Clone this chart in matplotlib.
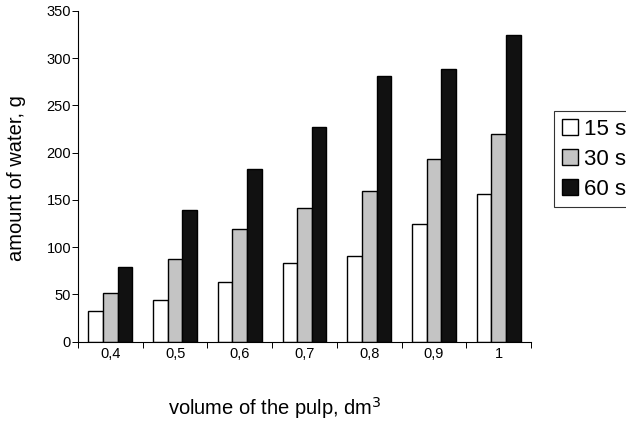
import numpy as np
import matplotlib.pyplot as plt

plt.rcParams['font.family'] = ['Liberation Sans', 'DejaVu Sans']

# data
volumes = ["0,4", "0,5", "0,6", "0,7", "0,8", "0,9", "1"]
water_15s = [32, 44, 63, 83, 91, 125, 156]
water_30s = [52, 88, 119, 141, 160, 193, 220]
water_60s = [79, 139, 183, 227, 281, 289, 325]
series_names = ["15 s", "30 s", "60 s"]
yticks = [0, 50, 100, 150, 200, 250, 300, 350]

fig = plt.figure(figsize=(6.26, 4.26), dpi=100)
ax = fig.add_axes([78 / 626, 1 - 341.7 / 426, (531 - 78) / 626, (341.7 - 11) / 426])

x = np.arange(len(volumes))
w = 0.226
colors = ["white", "#c4c4c4", "#111111"]
for i, (vals, name, c) in enumerate(zip([water_15s, water_30s, water_60s], series_names, colors)):
    ax.bar(x + (i - 1) * w, vals, width=w, color=c, edgecolor="black", linewidth=1.0, label=name)

ax.set_xlim(-0.5, len(volumes) - 0.5)
ax.set_ylim(0, 350)
ax.set_yticks(yticks)
ax.tick_params(axis="y", labelsize=10.5, length=4, width=0.7, direction="out", pad=1)

# category labels between boundary ticks
ax.set_xticks(np.arange(len(volumes) + 1) - 0.5)
ax.set_xticklabels([])
ax.set_xticks(x, minor=True)
ax.set_xticklabels(volumes, minor=True)
ax.tick_params(axis="x", which="major", length=4, width=0.7, direction="out")
ax.tick_params(axis="x", which="minor", length=0, labelsize=10.5, pad=4)

for s in ["top", "right"]:
    ax.spines[s].set_visible(False)
for s in ["left", "bottom"]:
    ax.spines[s].set_linewidth(0.8)

fig.text(17 / 626, 1 - 178 / 426, "amount of water, g", fontsize=14.5,
         rotation=90, ha="center", va="center")
fig.text(275 / 626, 1 - 408 / 426, "volume of the pulp, dm$^3$", fontsize=14.5,
         ha="center", va="center")

leg = fig.legend(loc="upper left", bbox_to_anchor=(554 / 626, 1 - 111 / 426),
                 fontsize=16, frameon=True, fancybox=False, edgecolor="black",
                 handlelength=0.75, handleheight=0.75, handletextpad=0.25,
                 borderpad=0.35, labelspacing=0.4, borderaxespad=0)
leg.get_frame().set_linewidth(0.8)

fig.savefig("out.png", dpi=100)
